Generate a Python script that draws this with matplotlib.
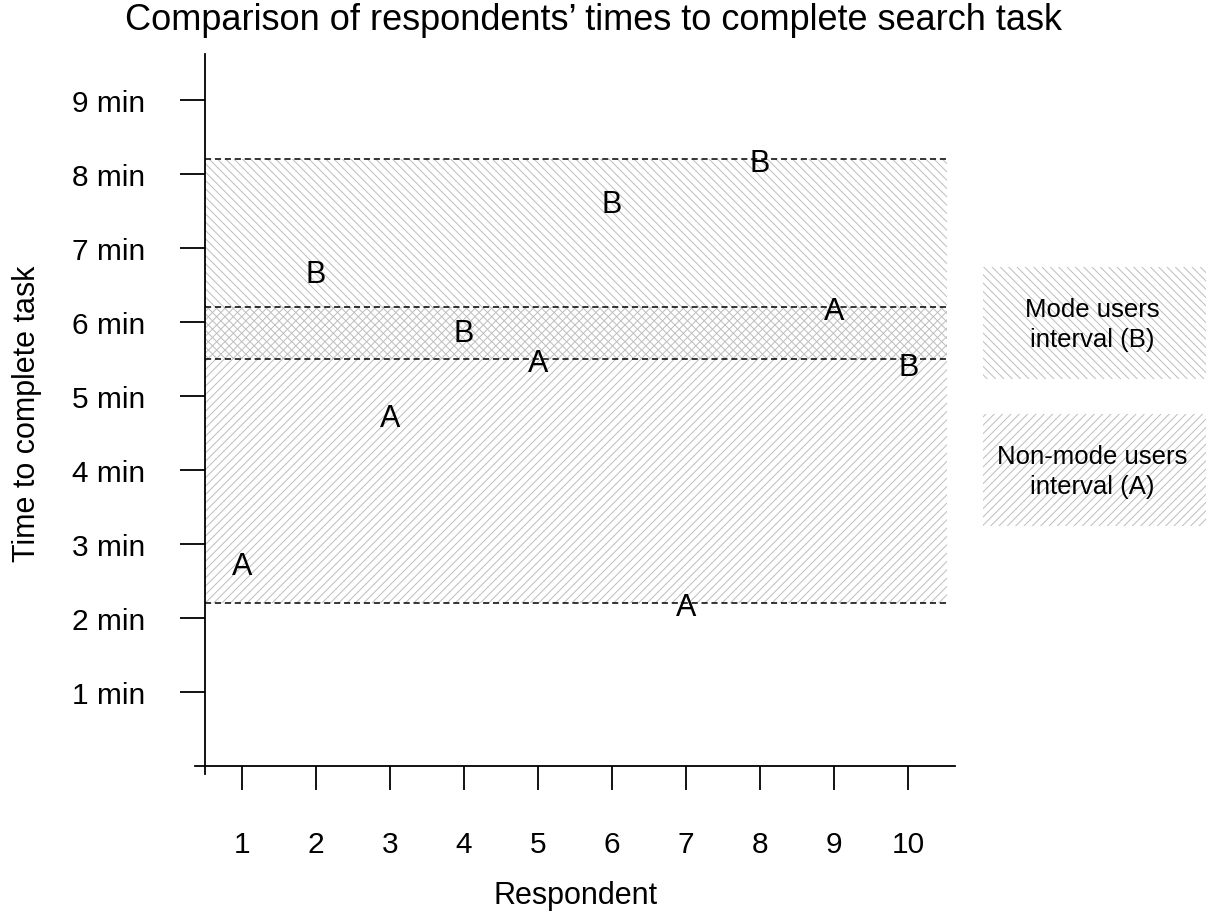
import matplotlib
matplotlib.use("Agg")
import matplotlib.pyplot as plt
from matplotlib.patches import Rectangle
from matplotlib.transforms import offset_copy

plt.rcParams['font.family'] = ['Liberation Sans', 'DejaVu Sans']
plt.rcParams['hatch.linewidth'] = 0.7

# data
respondents = [1, 2, 3, 4, 5, 6, 7, 8, 9, 10]
groups = ['A', 'B', 'A', 'B', 'A', 'B', 'A', 'B', 'A', 'B']
times = [2.75, 6.7, 4.75, 5.9, 5.5, 7.65, 2.2, 8.2, 6.2, 5.45]
interval_b = (5.5, 8.2)   # mode users
interval_a = (2.2, 6.2)   # non-mode users
ytick_vals = [1, 2, 3, 4, 5, 6, 7, 8, 9]
ytick_labels = [f"{v} min" for v in ytick_vals]

hatch_col = '#bdbdbd'

fig = plt.figure(figsize=(12.06, 9.12), dpi=100)
ax = fig.add_axes([0.1617, 0.1502, 0.63, 0.7895])
ax.set_xlim(0.37, 10.63)
ax.set_ylim(-0.11, 9.62)

# shaded intervals
x0, x1 = 0.5, 10.53
for lo, hi, h in [(interval_b[0], interval_b[1], '\\\\\\\\'), (interval_a[0], interval_a[1], '////')]:
    ax.add_patch(Rectangle((x0, lo), x1 - x0, hi - lo, facecolor='none',
                           edgecolor=hatch_col, linewidth=0, hatch=h, zorder=1))
    ax.plot([x0, x1], [lo, lo], color='black', linestyle=(0, (4, 2.5)), linewidth=1.1, zorder=2)
    ax.plot([x0, x1], [hi, hi], color='black', linestyle=(0, (4, 2.5)), linewidth=1.1, zorder=2)

# letters as markers (nudged so the glyph itself sits on the value)
trans = offset_copy(ax.transData, fig=fig, x=0, y=-4, units='dots')
for r, g, t in zip(respondents, groups, times):
    ax.text(r, t, g, ha='center', va='center', fontsize=22, zorder=3, transform=trans)

for s in ['top', 'right']:
    ax.spines[s].set_visible(False)
ax.spines['left'].set_position(('data', 0.5))
ax.spines['bottom'].set_position(('data', 0))
ax.spines['left'].set_linewidth(1.3)
ax.spines['bottom'].set_linewidth(1.3)

ax.set_xticks(respondents)
ax.set_xticklabels([str(r) for r in respondents])
ax.set_yticks(ytick_vals)
ax.set_yticklabels(ytick_labels)
ax.tick_params(axis='y', direction='out', length=18, width=1.3, pad=25, labelsize=21.5)
ax.tick_params(axis='x', direction='out', length=17, width=1.3, pad=29, labelsize=21.5)

fig.text(0.022, 0.546, 'Time to complete task', rotation=90, ha='center', va='center', fontsize=22)
fig.text(0.477, 0.018, 'Respondent', ha='center', va='center', fontsize=22)
fig.text(0.492, 0.978, 'Comparison of respondents\u2019 times to complete search task',
         ha='center', va='center', fontsize=26)

# legend boxes
for (y_top, h, label) in [(268, '\\\\\\\\', 'Mode users\ninterval (B)'),
                          (415, '////', 'Non-mode users\ninterval (A)')]:
    fig.add_artist(Rectangle((983 / 1206, 1 - (y_top + 112) / 912), 223 / 1206, 112 / 912,
                             transform=fig.transFigure, facecolor='none', edgecolor=hatch_col,
                             linewidth=0, hatch=h))
    fig.text(1092 / 1206, 1 - (y_top + 57) / 912, label, ha='center', va='center',
             fontsize=18.5, linespacing=1.35)

fig.savefig('out.png', dpi=100)
